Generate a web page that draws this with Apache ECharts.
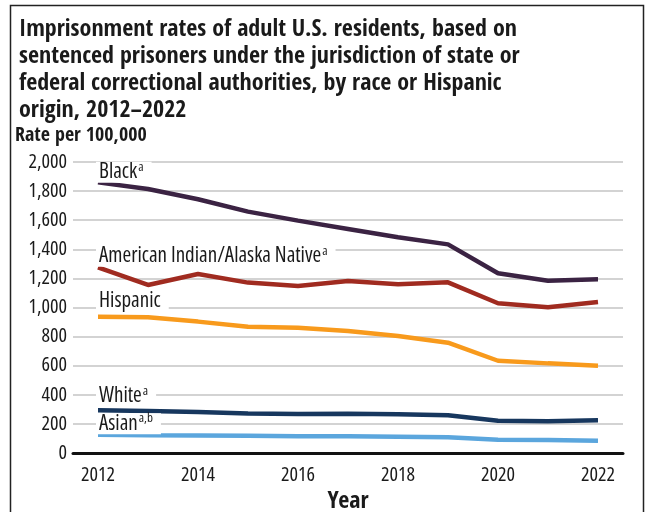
<!DOCTYPE html>
<html>
<head>
<meta charset="utf-8">
<script src="https://cdn.jsdelivr.net/npm/echarts@6/dist/echarts.min.js"></script>
<style>
  html, body { margin: 0; padding: 0; background: #fff; }
  #chart { width: 646px; height: 512px; }
</style>
</head>
<body>
<div id="chart"></div>
<script>
// data
var years = ["2012", "2013", "2014", "2015", "2016", "2017", "2018", "2019", "2020", "2021", "2022"];
var black = [1860, 1814, 1744, 1659, 1597, 1540, 1483, 1434, 1235, 1184, 1194];
var aian = [1276, 1155, 1230, 1171, 1148, 1182, 1160, 1173, 1029, 1001, 1038];
var hispanic = [937, 933, 903, 868, 861, 838, 804, 758, 634, 616, 600];
var white = [293, 289, 282, 271, 268, 270, 266, 259, 222, 218, 225];
var asian = [126, 122, 120, 118, 115, 115, 112, 108, 91, 89, 84];
var yTicks = [0, 200, 400, 600, 800, 1000, 1200, 1400, 1600, 1800, 2000];

// bold text: the static condensed bold face; regular text: variable Open Sans at condensed width
var BOLD_FONT = "Open Sans Condensed";
var FONT = "Open Sans";
var REG = "normal condensed";

var seriesList = [
  { name: "Black", sup: "a", data: black, color: "#3b2343", dy: -10 },
  { name: "American Indian/Alaska Native", sup: "a", data: aian, color: "#a02b20", dy: -11 },
  { name: "Hispanic", sup: "", data: hispanic, color: "#f89a1c", dy: -16 },
  { name: "White", sup: "a", data: white, color: "#17375e", dy: -14 },
  { name: "Asian", sup: "a,b", data: asian, color: "#5ba6dd", dy: -11 }
];

var chart = echarts.init(document.getElementById("chart"));

var option = {
  animation: false,
  title: {
    text: "Imprisonment rates of adult U.S. residents, based on\nsentenced prisoners under the jurisdiction of state or\nfederal correctional authorities, by race or Hispanic\norigin, 2012\u20132022",
    left: 14,
    top: 11,
    textStyle: { fontFamily: BOLD_FONT, fontWeight: "bold", fontSize: 24, lineHeight: 27, color: "#1a1a1a" }
  },
  grid: { left: 73, right: 23, top: 162, bottom: 59, containLabel: false, outerBoundsMode: "none" },
  xAxis: {
    type: "category",
    data: years,
    boundaryGap: true,
    name: "Year",
    nameLocation: "middle",
    nameGap: 36,
    nameTextStyle: { fontFamily: BOLD_FONT, fontWeight: "bold", fontSize: 24, color: "#1a1a1a" },
    axisLine: { lineStyle: { color: "#111", width: 3 } },
    axisTick: { alignWithLabel: true, interval: 0, length: 8, lineStyle: { color: "#111", width: 3 } },
    axisLabel: { interval: 1, fontFamily: FONT, fontWeight: REG, fontSize: 20, color: "#1a1a1a", margin: 12 },
    splitLine: { show: false }
  },
  yAxis: {
    type: "value",
    min: yTicks[0],
    max: yTicks[yTicks.length - 1],
    interval: 200,
    axisLine: { show: false },
    axisTick: { show: false },
    axisLabel: {
      fontFamily: FONT, fontWeight: REG, fontSize: 20, color: "#1a1a1a", margin: 6,
      formatter: function (v) { return v.toLocaleString("en-US"); }
    },
    splitLine: { lineStyle: { color: "#c4c4c4", width: 1.5 } }
  },
  series: seriesList.map(function (s) {
    return {
      name: s.name,
      type: "line",
      data: s.data,
      symbol: "none",
      lineStyle: { color: s.color, width: 4.5 },
      z: 3
    };
  }),
  graphic: [
    {
      type: "text",
      left: 15,
      top: 126,
      style: { text: "Rate per 100,000", font: "bold 20px '" + BOLD_FONT + "'", fill: "#1a1a1a" }
    },
    {
      type: "rect",
      shape: { x: 10.5, y: 5.5, width: 633, height: 520 },
      style: { fill: "none", stroke: "#222", lineWidth: 1.5 },
      z: -1
    }
  ]
};

chart.setOption(option);

// series name labels next to each line's first point, superscript drawn as its own text
var nameFont = REG + " 21px '" + FONT + "'";
var supFont = REG + " 13px '" + FONT + "'";
var ctx = document.createElement("canvas").getContext("2d");
function textWidth(t, f) { ctx.font = f; return ctx.measureText(t).width; }

var labels = [];
seriesList.forEach(function (s) {
  var p = chart.convertToPixel({ xAxisIndex: 0, yAxisIndex: 0 }, [years[0], s.data[0]]);
  var x0 = p[0] - 2;
  var yc = p[1] + s.dy;
  var nw = textWidth(s.name, nameFont);
  var sw = s.sup ? textWidth(s.sup, supFont) + 1 : 0;
  labels.push({
    type: "text",
    x: x0,
    y: yc,
    z: 10,
    style: {
      text: s.name,
      font: nameFont,
      fill: "#1a1a1a",
      verticalAlign: "middle",
      backgroundColor: "#fff",
      padding: [0, 8 + sw, 0, 3]
    }
  });
  if (s.sup) {
    labels.push({
      type: "text",
      x: x0 + 3 + nw + 1,
      y: yc - 5,
      z: 11,
      style: { text: s.sup, font: supFont, fill: "#1a1a1a", verticalAlign: "middle" }
    });
  }
});
chart.setOption({ graphic: option.graphic.concat(labels) });
</script>
</body>
</html>
